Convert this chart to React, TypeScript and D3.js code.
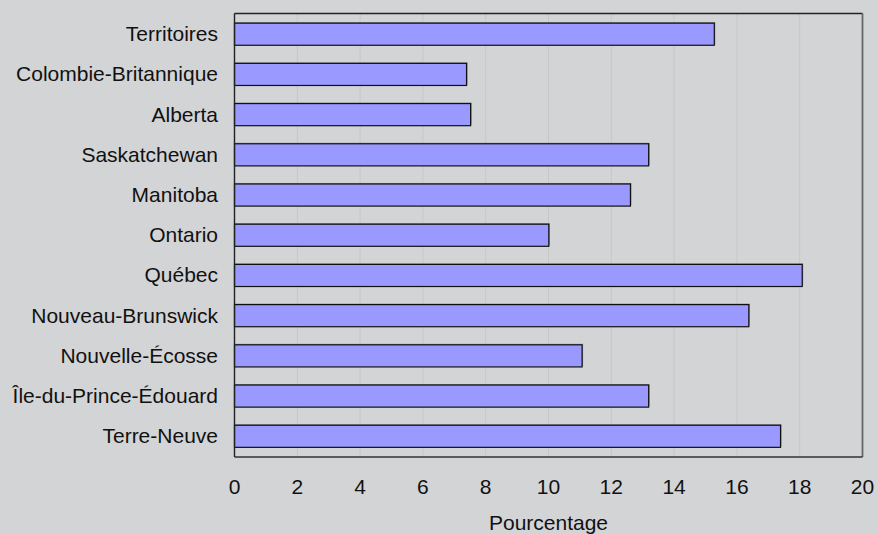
import React, { useEffect, useRef } from 'react';
import * as d3 from 'd3';

const provinces = [
  'Territoires',
  'Colombie-Britannique',
  'Alberta',
  'Saskatchewan',
  'Manitoba',
  'Ontario',
  'Québec',
  'Nouveau-Brunswick',
  'Nouvelle-Écosse',
  'Île-du-Prince-Édouard',
  'Terre-Neuve',
];
const percentages = [15.28, 7.39, 7.52, 13.19, 12.61, 10.01, 18.08, 16.38, 11.07, 13.19, 17.39];
const xTicks = [0, 2, 4, 6, 8, 10, 12, 14, 16, 18, 20];
const xTitle = 'Pourcentage';

const W = 877;
const H = 534;
const FONT = '"Liberation Sans", Arial, Helvetica, sans-serif';

const App: React.FC = () => {
  const ref = useRef<SVGSVGElement>(null);

  useEffect(() => {
    if (!ref.current) return;
    const svg = d3.select(ref.current);
    svg.selectAll('*').remove();

    const left = 234.5, right = 862.5, top = 13.5, bottom = 457;

    const x = d3.scaleLinear().domain([0, 20]).range([left, right]);
    const y = d3.scaleBand<string>()
      .domain(provinces)
      .range([top, bottom])
      .paddingInner(0.45)
      .paddingOuter(0.24);

    // background
    svg.append('rect').attr('width', W).attr('height', H).attr('fill', '#d3d4d6');

    // gridlines
    svg.append('g')
      .selectAll('line')
      .data(xTicks.slice(1, -1))
      .enter()
      .append('line')
      .attr('x1', d => x(d)).attr('x2', d => x(d))
      .attr('y1', top).attr('y2', bottom)
      .attr('stroke', '#c6c7c9')
      .attr('stroke-width', 1);

    // bars (with a thin grey shadow)
    const data = provinces.map((p, i) => ({ p, v: percentages[i] }));
    const bars = svg.append('g');
    bars.selectAll('rect.shadow')
      .data(data)
      .enter()
      .append('rect')
      .attr('class', 'shadow')
      .attr('x', x(0))
      .attr('y', d => (y(d.p) as number) - 1)
      .attr('width', d => x(d.v) - x(0) + 1)
      .attr('height', y.bandwidth())
      .attr('fill', '#8a8a92');
    bars.selectAll('rect.bar')
      .data(data)
      .enter()
      .append('rect')
      .attr('class', 'bar')
      .attr('x', x(0))
      .attr('y', d => y(d.p) as number)
      .attr('width', d => x(d.v) - x(0))
      .attr('height', y.bandwidth())
      .attr('fill', '#9999ff')
      .attr('stroke', '#111')
      .attr('stroke-width', 1.2);

    // frame
    svg.append('line').attr('x1', left).attr('x2', right).attr('y1', top).attr('y2', top)
      .attr('stroke', '#222').attr('stroke-width', 1.4);
    svg.append('line').attr('x1', left).attr('x2', left).attr('y1', top).attr('y2', bottom)
      .attr('stroke', '#222').attr('stroke-width', 1.4);
    svg.append('line').attr('x1', right).attr('x2', right).attr('y1', top).attr('y2', bottom)
      .attr('stroke', '#666').attr('stroke-width', 1.8);
    svg.append('line').attr('x1', left).attr('x2', right).attr('y1', bottom).attr('y2', bottom)
      .attr('stroke', '#333').attr('stroke-width', 1.4);

    // category labels
    svg.append('g')
      .selectAll('text')
      .data(provinces)
      .enter()
      .append('text')
      .attr('x', 218)
      .attr('y', d => (y(d) as number) + y.bandwidth() / 2 + 7)
      .attr('text-anchor', 'end')
      .attr('font-family', FONT)
      .attr('font-size', 21)
      .attr('fill', '#111')
      .text(d => d);

    // tick labels
    svg.append('g')
      .selectAll('text')
      .data(xTicks)
      .enter()
      .append('text')
      .attr('x', d => x(d))
      .attr('y', 494)
      .attr('text-anchor', 'middle')
      .attr('font-family', FONT)
      .attr('font-size', 21)
      .attr('fill', '#111')
      .text(d => d);

    svg.append('text')
      .attr('x', x(10))
      .attr('y', 530)
      .attr('text-anchor', 'middle')
      .attr('font-family', FONT)
      .attr('font-size', 21)
      .attr('fill', '#111')
      .text(xTitle);
  }, []);

  return (
    <div style={{ position: 'absolute', left: 0, top: 0 }}>
      <svg ref={ref} width={W} height={H} style={{ display: 'block' }}></svg>
    </div>
  );
};

export default App;
